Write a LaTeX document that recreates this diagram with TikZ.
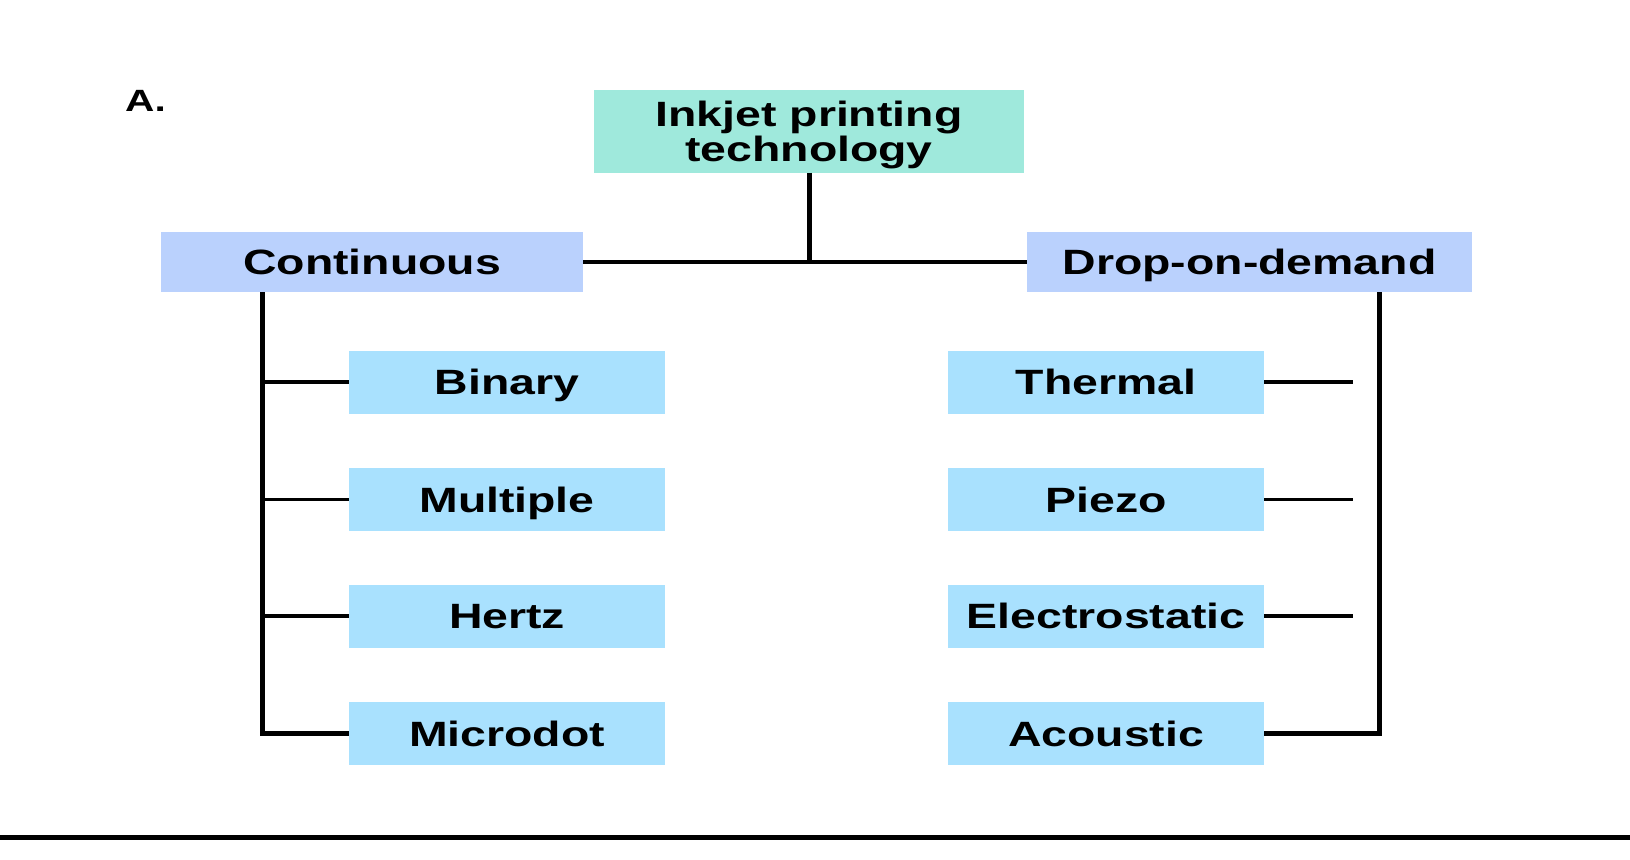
\documentclass[tikz,border=0pt]{standalone}
\usepackage{fontspec}
\setmainfont{Liberation Sans}[FakeStretch=1.32]
\usepackage{xcolor}
\usepackage{tikz}
\definecolor{rootbg}{HTML}{9FE9DC}
\definecolor{kindbg}{HTML}{BAD1FD}
\definecolor{leafbg}{HTML}{A9E1FE}
\definecolor{ink}{HTML}{000000}
\tikzset{
  box/.style={inner sep=0pt, text=ink, text height=14.4pt, text depth=0pt, font=\fontsize{20}{20}\selectfont\bfseries},
  root/.style={box, fill=rootbg, minimum width=86mm, minimum height=16.4mm, align=center, text height=34pt},
  kind/.style={box, fill=kindbg, minimum height=12mm},
  leaf/.style={box, fill=leafbg, minimum width=63.2mm, minimum height=12.6mm},
  bus/.style={draw=ink, line width=1.0mm},
  link/.style={draw=ink, line width=0.7mm},
  tick/.style={draw=ink, line width=0.65mm},
  lab/.style={text=ink, font=\fontsize{17.5}{18}\selectfont\bfseries, inner sep=0pt, text height=12.6pt, text depth=0pt},
}
\begin{document}
\begin{tikzpicture}[x=0.2mm, y=-0.2mm]
  \useasboundingbox (0,0) rectangle (1630,860);

  \node[lab] (panel) at (145.5,100.8) {A.};

  \node[root] (ink) at (809,131.5) {Inkjet printing\\technology};
  \node[kind, minimum width=84.4mm] (cont) at (372,262) {Continuous};
  \node[kind, minimum width=89mm] (dod) at (1249.5,262) {Drop-on-demand};

  \node[leaf] (bin) at (507,382) {Binary};
  \node[leaf] (mult) at (507,499.5) {Multiple};
  \node[leaf] (hertz) at (507,616) {Hertz};
  \node[leaf] (micro) at (507,733.5) {Microdot};

  \node[leaf] (therm) at (1106,382) {Thermal};
  \node[leaf] (piezo) at (1106,499.5) {Piezo};
  \node[leaf] (elec) at (1106,616) {Electrostatic};
  \node[leaf] (acou) at (1106,733.5) {Acoustic};

  \coordinate (lbus) at (262,0);
  \coordinate (rbus) at (1379,0);
  \coordinate (rtick) at (1353,0);
  \coordinate (footL) at (0,837);
  \coordinate (footR) at (1630,837);

  \draw[bus] (ink.south) -- (ink.south |- cont.east);
  \draw[link] (cont.east) -- (dod.west);

  \draw[bus] (cont.south -| lbus) -- (lbus |- micro.west) -- (micro.west);
  \draw[tick] (lbus |- bin.west) -- (bin.west);
  \draw[tick] (lbus |- mult.west) -- (mult.west);
  \draw[tick] (lbus |- hertz.west) -- (hertz.west);

  \draw[bus] (dod.south -| rbus) -- (rbus |- acou.east) -- (acou.east);
  \draw[tick] (therm.east) -- (therm.east -| rtick);
  \draw[tick] (piezo.east) -- (piezo.east -| rtick);
  \draw[tick] (elec.east) -- (elec.east -| rtick);

  \draw[bus] (footL) -- (footR);
\end{tikzpicture}
\end{document}
